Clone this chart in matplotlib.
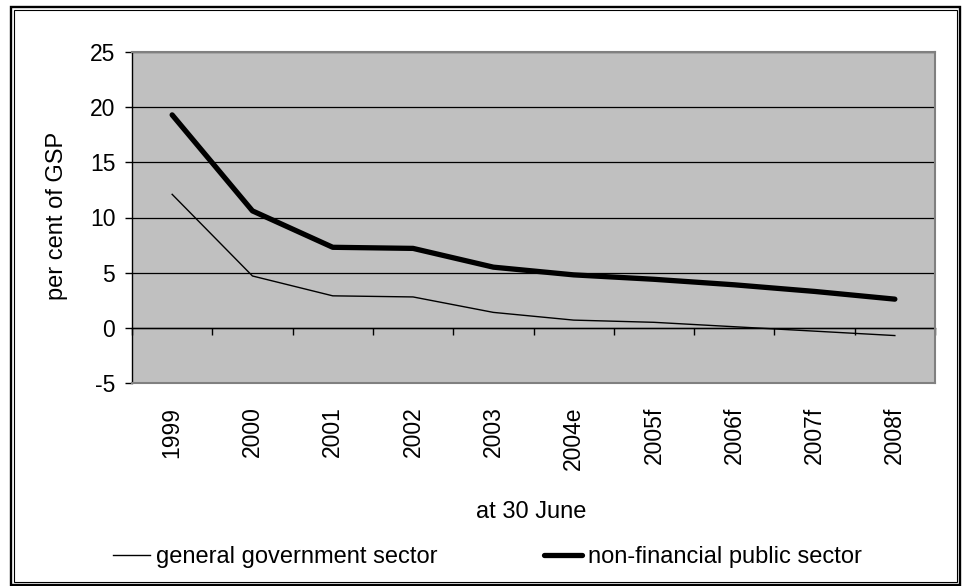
import numpy as np
import matplotlib
matplotlib.use("Agg")
import matplotlib.pyplot as plt
from matplotlib.patches import Rectangle

plt.rcParams['font.family'] = ['Liberation Sans', 'DejaVu Sans']

# Net debt, per cent of GSP, at 30 June
years = ['1999', '2000', '2001', '2002', '2003', '2004e', '2005f', '2006f', '2007f', '2008f']
general_gov = [12.1, 4.7, 2.9, 2.8, 1.4, 0.7, 0.5, 0.1, -0.3, -0.7]
non_fin_public = [19.3, 10.6, 7.3, 7.2, 5.5, 4.8, 4.4, 3.9, 3.3, 2.6]
y_ticks = [-5, 0, 5, 10, 15, 20, 25]

W, H = 963, 586
DPI = 100
FS_TICK = 16.5
FS_TEXT = 17

fig = plt.figure(figsize=(W / DPI, H / DPI), dpi=DPI)
fig.patch.set_facecolor('white')

def px(x0, y0, x1, y1):
    """Convert a pixel box (top-left origin) to figure-fraction [l, b, w, h]."""
    return [x0 / W, 1 - y1 / H, (x1 - x0) / W, (y1 - y0) / H]

ax = fig.add_axes(px(132, 52, 935, 383))
ax.set_facecolor('#C0C0C0')

x = np.arange(len(years))
ax.set_xlim(-0.5, len(years) - 0.5)
ax.set_ylim(min(y_ticks), max(y_ticks))

# horizontal gridlines
for v in y_ticks[1:]:
    ax.axhline(v, color='black', lw=0.9, zorder=1)

# category axis crossing at zero, with tick marks between categories
bounds = np.arange(len(years) + 1) - 0.5
ax.plot(bounds, np.zeros_like(bounds), color='black', lw=1.0,
        marker=3, markersize=5, markeredgewidth=1.0, zorder=2, clip_on=False)

ln_gg, = ax.plot(x, general_gov, color='black', lw=1.0, zorder=3,
                 solid_joinstyle='round', label='general government sector')
ln_nf, = ax.plot(x, non_fin_public, color='black', lw=3.8, zorder=4,
                 solid_joinstyle='round', solid_capstyle='round',
                 label='non-financial public sector')

ax.set_yticks(y_ticks)
ax.set_yticklabels([str(v) for v in y_ticks], fontsize=FS_TICK)
ax.tick_params(axis='y', direction='out', length=5, width=1, pad=7, color='black')

ax.set_xticks(x)
ax.set_xticklabels(years, rotation=90, fontsize=FS_TICK)
ax.tick_params(axis='x', length=0, pad=17)

for side in ['top', 'right', 'bottom']:
    ax.spines[side].set_color('#808080')
    ax.spines[side].set_linewidth(1.5)
ax.spines['left'].set_color('black')
ax.spines['left'].set_linewidth(1.0)

fig.text(57 / W, 1 - 216 / H, 'per cent of GSP', rotation=90,
         ha='center', va='center', fontsize=FS_TEXT)
fig.text(531 / W, 1 - 512 / H, 'at 30 June', ha='center', va='center', fontsize=FS_TEXT)

fig.legend(handles=[ln_gg, ln_nf], loc='center',
           bbox_to_anchor=(487 / W, 1 - 557 / H), ncol=2, frameon=False,
           fontsize=FS_TEXT, handlelength=1.6, handletextpad=0.25,
           columnspacing=4.5, borderpad=0, borderaxespad=0)

# double border around the whole chart
fig.patches.append(Rectangle((11 / W, 1 - 584.5 / H), (960 - 11) / W, (584.5 - 7) / H,
                             transform=fig.transFigure, fill=False,
                             edgecolor='black', lw=1.7))
fig.patches.append(Rectangle((14 / W, 1 - 581.5 / H), (957 - 14) / W, (581.5 - 10) / H,
                             transform=fig.transFigure, fill=False,
                             edgecolor='black', lw=0.8))

fig.savefig('out.png', dpi=DPI)
